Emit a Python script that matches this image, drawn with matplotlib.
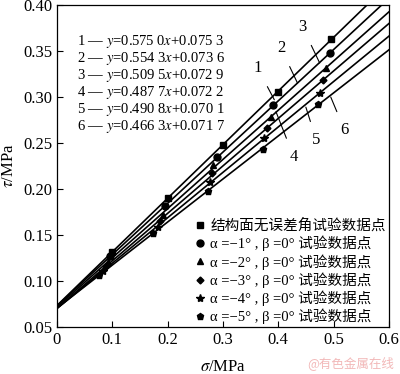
import numpy as np
import matplotlib
matplotlib.use("Agg")
import matplotlib.pyplot as plt

plt.rcParams['font.family'] = ['Liberation Serif', 'Noto Sans CJK SC', 'DejaVu Sans']
plt.rcParams['mathtext.fontset'] = 'stix'

# ---- data ----
series_labels = [
    "结构面无误差角试验数据点",
    "α =−1° , β =0° 试验数据点",
    "α =−2° , β =0° 试验数据点",
    "α =−3° , β =0° 试验数据点",
    "α =−4° , β =0° 试验数据点",
    "α =−5° , β =0° 试验数据点",
]
markers = ['s', 'o', '^', 'D', '*', 'p']
marker_sizes = [5, 5, 5, 3.5, 6, 5]

x_sq = [0.100, 0.200, 0.300, 0.400, 0.495]
y_sq = [0.132, 0.190, 0.248, 0.305, 0.363]
x_ci = [0.096, 0.196, 0.290, 0.391, 0.494]
y_ci = [0.127, 0.181, 0.235, 0.291, 0.348]
x_tr = [0.092, 0.191, 0.283, 0.387, 0.486]
y_tr = [0.121, 0.172, 0.226, 0.278, 0.331]
x_di = [0.088, 0.187, 0.280, 0.380, 0.481]
y_di = [0.116, 0.165, 0.217, 0.266, 0.318]
x_st = [0.083, 0.182, 0.277, 0.375, 0.475]
y_st = [0.111, 0.159, 0.208, 0.255, 0.304]
x_pe = [0.076, 0.173, 0.273, 0.373, 0.472]
y_pe = [0.106, 0.152, 0.198, 0.244, 0.292]

xs = [x_sq, x_ci, x_tr, x_di, x_st, x_pe]
ys = [y_sq, y_ci, y_tr, y_di, y_st, y_pe]

equations = [
    "1 — $y$=0.575 0$x$+0.075 3",
    "2 — $y$=0.554 3$x$+0.073 6",
    "3 — $y$=0.509 5$x$+0.072 9",
    "4 — $y$=0.487 7$x$+0.072 2",
    "5 — $y$=0.490 8$x$+0.070 1",
    "6 — $y$=0.466 3$x$+0.071 7",
]

line_ids = ["1", "2", "3", "4", "5", "6"]
# label text position and leader end point (data coords)
label_xy = [(0.363, 0.331), (0.405, 0.353), (0.444, 0.376),
            (0.428, 0.235), (0.469, 0.253), (0.520, 0.264)]
leader_end = [(0.393, 0.297), (0.435, 0.315), (0.475, 0.337),
              (0.396, 0.284), (0.450, 0.289), (0.495, 0.300)]

# ---- figure ----
fig = plt.figure(figsize=(4.0, 3.74), dpi=100)
ax = fig.add_axes([0.1425, 0.1257, 0.972 - 0.1425, 0.9866 - 0.1257])

xfit = np.linspace(0, 0.6, 50)
handles = []
for x, y, m, ms, lab in zip(xs, ys, markers, marker_sizes, series_labels):
    k, b = np.polyfit(x, y, 1)
    ax.plot(xfit, k * xfit + b, color='black', lw=1.2, zorder=2)
    h, = ax.plot(x, y, linestyle='none', marker=m, ms=ms, color='black',
                 label=lab, zorder=3)
    handles.append(h)

for t, (lx, ly), (ex, ey) in zip(line_ids, label_xy, leader_end):
    ax.annotate(t, xy=(ex, ey), xytext=(lx, ly), fontsize=12,
                ha='center', va='center',
                arrowprops=dict(arrowstyle='-', lw=0.8, color='black',
                                shrinkA=6, shrinkB=0))

eq_y0 = 0.3600
for i, eq in enumerate(equations):
    ax.text(0.036, eq_y0 - i * 0.0185, eq, fontsize=10.5, ha='left', va='center')

leg = ax.legend(handles=handles, loc='lower right', frameon=False,
                fontsize=10.5, handlelength=0.6, handletextpad=0.4,
                labelspacing=0.18, borderaxespad=0.0, borderpad=0.2,
                bbox_to_anchor=(1.0, 0.0))

ax.set_xlim(0, 0.6)
ax.set_ylim(0.05, 0.40)
ax.set_xticks([0, 0.1, 0.2, 0.3, 0.4, 0.5, 0.6])
ax.set_xticklabels(["0", "0.1", "0.2", "0.3", "0.4", "0.5", "0.6"])
ax.set_yticks([0.05, 0.10, 0.15, 0.20, 0.25, 0.30, 0.35, 0.40])
ax.set_yticklabels(["0.05", "0.10", "0.15", "0.20", "0.25", "0.30", "0.35", "0.40"])
ax.tick_params(direction='in', labelsize=12, length=4, width=0.8)
for s in ax.spines.values():
    s.set_linewidth(0.9)

ax.set_xlabel(r"$\sigma$/MPa", fontsize=12, labelpad=8)
ax.set_ylabel(r"$\tau$/MPa", fontsize=12, labelpad=4)

fig.text(0.985, 0.03, "@有色金属在线", color='#f2b8b8', fontsize=9,
         ha='right', va='center', family=['Noto Sans CJK SC'])

fig.savefig("out.png", dpi=100)
